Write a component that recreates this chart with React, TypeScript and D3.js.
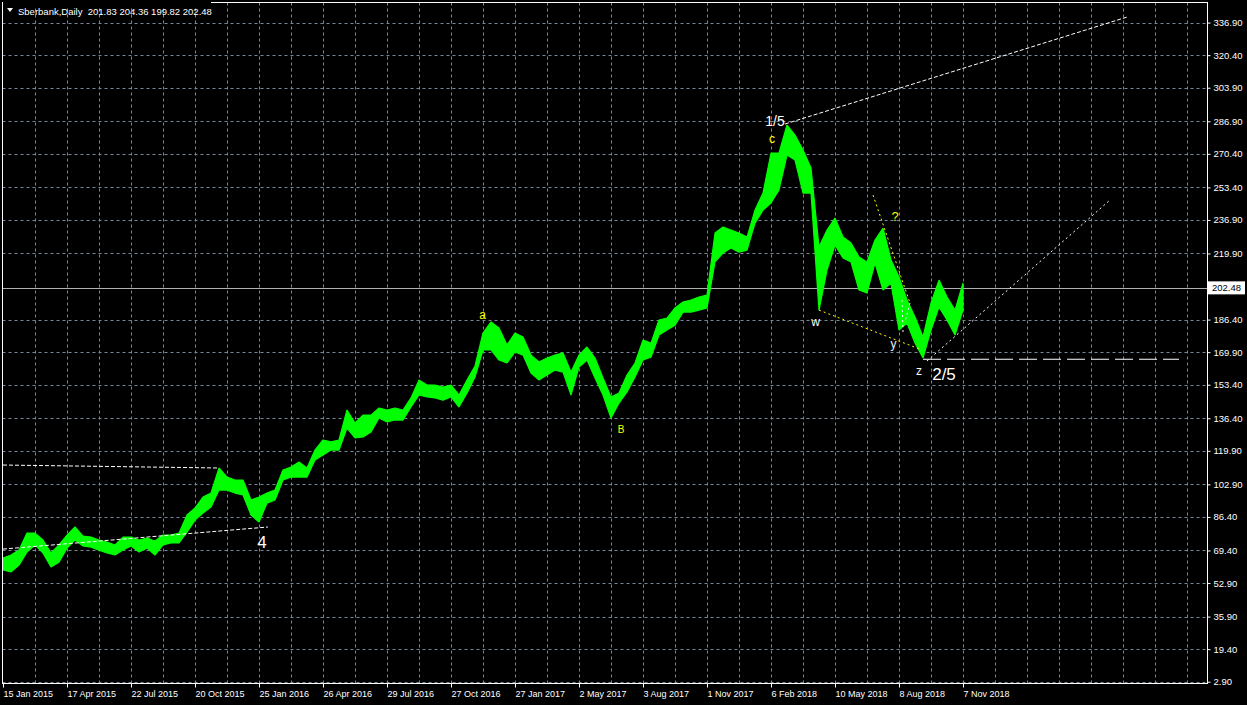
import React, { useEffect, useRef } from "react";
import * as d3 from "d3";

// Sberbank daily, sampled every 8 bars (high / low of each slice)
const STEP = 8;
const highs = [
  65.6, 67.1, 69.6, 78.2, 78.2, 74.7, 68.1, 72.2, 77.2, 81.3, 76.7, 76.2, 74.7, 73.7, 72.2, 76.2,
  76.2, 74.7, 75.7, 74.2, 77.2, 77.2, 78.2, 87.4, 90.9, 96.5, 98.5, 111.2, 106.6, 105.1, 105.1, 95.0,
  96.5, 98.5, 100.0, 110.2, 111.7, 114.2, 111.2, 120.3, 125.4, 124.4, 125.4, 140.6, 134.0, 138.0, 138.0, 141.6,
  140.6, 141.6, 140.6, 146.7, 155.8, 153.2, 153.2, 152.2, 153.2, 148.2, 155.8, 162.9, 179.6, 185.2, 182.1, 173.5,
  179.6, 177.6, 168.4, 164.9, 166.9, 168.4, 169.5, 159.8, 168.4, 172.5, 166.9, 156.8, 147.2, 149.2, 158.3, 164.4,
  176.0, 174.5, 186.2, 187.2, 192.3, 195.3, 196.3, 197.8, 198.8, 230.3, 233.3, 231.8, 230.3, 228.2, 241.9, 250.5,
  270.8, 270.8, 285.0, 279.9, 272.3, 263.2, 223.2, 231.8, 237.9, 228.2, 225.2, 218.1, 215.6, 226.7, 232.8, 216.6,
  208.0, 196.3, 187.7, 177.6, 194.8, 206.4, 197.8, 191.2, 204.9,
];
const lows = [
  59.5, 58.5, 62.0, 68.6, 72.2, 68.1, 61.0, 63.5, 70.6, 74.7, 71.7, 71.1, 69.6, 68.1, 67.1, 69.6,
  71.7, 68.6, 70.6, 67.1, 72.2, 73.2, 73.2, 78.7, 84.8, 88.4, 91.4, 100.0, 100.0, 98.5, 97.5, 87.4,
  83.8, 93.4, 95.0, 105.1, 106.6, 106.6, 106.6, 115.2, 117.8, 120.3, 120.3, 131.4, 126.4, 126.9, 129.4, 136.5,
  134.5, 135.5, 135.5, 142.1, 148.2, 147.2, 146.7, 145.6, 147.2, 142.1, 149.2, 157.3, 171.0, 171.0, 165.9, 164.4,
  170.0, 168.4, 159.3, 155.8, 158.3, 160.8, 159.8, 148.2, 162.4, 165.9, 156.8, 148.2, 136.5, 144.1, 149.7, 157.3,
  165.9, 167.4, 178.6, 181.1, 183.6, 190.2, 190.2, 191.2, 192.3, 215.6, 220.1, 222.7, 220.6, 221.6, 235.3, 241.9,
  245.5, 252.1, 269.8, 267.3, 250.5, 250.5, 191.2, 211.5, 224.2, 217.6, 215.6, 201.4, 199.9, 215.1, 201.4, 204.9,
  181.1, 184.7, 174.5, 166.9, 181.1, 192.8, 186.2, 178.6, 191.2,
];

const priceTicks = [
  336.9, 320.4, 303.9, 286.9, 270.4, 253.4, 236.9, 219.9, 186.4, 169.9,
  153.4, 136.4, 119.9, 102.9, 86.4, 69.4, 52.9, 35.9, 19.4, 2.9,
];
const dateLabels = [
  "15 Jan 2015", "17 Apr 2015", "22 Jul 2015", "20 Oct 2015", "25 Jan 2016", "26 Apr 2016",
  "29 Jul 2016", "27 Oct 2016", "27 Jan 2017", "2 May 2017", "3 Aug 2017", "1 Nov 2017",
  "6 Feb 2018", "10 May 2018", "8 Aug 2018", "7 Nov 2018",
];
const lastPrice = 202.48;
const ohlc = [201.83, 204.36, 199.82, 202.48];

// trend lines: [bar, price] pairs
const whiteDashed = [
  [[0, 112.7], [215, 111.2]],
  [[0, 70.1], [265, 81.3]],
  [[782, 285.5], [1124, 339.7]],
];
const whiteDotted = [
  [[924, 165.4], [1107, 247.0]],
  [[899, 196.3], [900, 180.1]],
  [[907, 194.8], [902, 185.2]],
];
const yellowDotted = [
  [[816, 191.2], [919, 171.0]],
  [[870, 249.5], [907, 194.8]],
];
const supportLine = [[920, 166.3], [1176, 166.3]];

const waveLabels = [
  { text: "4", bar: 259, price: 73.4, color: "#ffffff", size: 17 },
  { text: "a", bar: 479.5, price: 188.5, color: "#ffff00", size: 12 },
  { text: "B", bar: 618, price: 130.7, color: "#ffff00", size: 10 },
  { text: "c", bar: 769, price: 278.1, color: "#ffff00", size: 12 },
  { text: "1/5", bar: 772, price: 287.0, color: "#ffffff", size: 14 },
  { text: "w", bar: 812.5, price: 185.4, color: "#ffffff", size: 12 },
  { text: "?", bar: 892, price: 238.4, color: "#ffff00", size: 13 },
  { text: "y", bar: 890.5, price: 173.8, color: "#e8f0ff", size: 12 },
  { text: "z", bar: 916, price: 160.3, color: "#ffffff", size: 12 },
  { text: "2/5", bar: 941, price: 158.8, color: "#ffffff", size: 17 },
];

const App = () => {
  const ref = useRef<SVGSVGElement>(null);

  useEffect(() => {
    if (!ref.current) return;
    document.body.style.margin = "0";
    document.body.style.background = "#000";

    const svg = d3.select(ref.current);
    svg.selectAll("*").remove();

    const W = 1247, H = 705;
    const left = 2.5, right = 1207.5, top = 2.5, bottom = 683.5;
    const font = "'Liberation Sans', Arial, sans-serif";

    const x = d3.scaleLinear().domain([0, 1204]).range([3, 1207]);
    const y = d3.scaleLinear().domain([2.9, 336.9]).range([681.7, 22.6]);

    svg.append("rect").attr("width", W).attr("height", H).attr("fill", "#000");

    // grid
    const grid = svg.append("g")
      .attr("stroke", "#778899")
      .attr("stroke-dasharray", "3,3")
      .attr("stroke-width", 1);
    grid.selectAll("line.h")
      .data(priceTicks)
      .enter()
      .append("line")
      .attr("x1", left)
      .attr("x2", right)
      .attr("y1", d => Math.round(y(d)) + 0.5)
      .attr("y2", d => Math.round(y(d)) + 0.5);
    grid.selectAll("line.v")
      .data(d3.range(32, 1204, 32))
      .enter()
      .append("line")
      .attr("x1", d => Math.round(x(d)) + 0.5)
      .attr("x2", d => Math.round(x(d)) + 0.5)
      .attr("y1", top)
      .attr("y2", bottom);

    // current price line
    svg.append("line")
      .attr("x1", left)
      .attr("x2", right)
      .attr("y1", Math.round(y(lastPrice)) + 0.5)
      .attr("y2", Math.round(y(lastPrice)) + 0.5)
      .attr("stroke", "#b0b0b0")
      .attr("stroke-width", 1);

    // price bars (high/low band)
    const band = d3.area<number>()
      .x((d, i) => x(i * STEP))
      .y0((d, i) => y(lows[i]))
      .y1(d => y(d));
    svg.append("path")
      .datum(highs)
      .attr("d", band)
      .attr("fill", "#00ff00")
      .attr("stroke", "#00ff00")
      .attr("stroke-width", 1.2)
      .attr("stroke-linejoin", "bevel");

    // trend lines
    const seg = (pts: number[][]) => d3.line<number[]>()
      .x(p => x(p[0]))
      .y(p => y(p[1]))(pts);

    whiteDashed.forEach(s => {
      svg.append("path").attr("d", seg(s)).attr("fill", "none")
        .attr("stroke", "#ffffff").attr("stroke-width", 1).attr("stroke-dasharray", "4,2");
    });
    whiteDotted.forEach(s => {
      svg.append("path").attr("d", seg(s)).attr("fill", "none")
        .attr("stroke", "#ffffff").attr("stroke-width", 1).attr("stroke-dasharray", "2,3");
    });
    yellowDotted.forEach(s => {
      svg.append("path").attr("d", seg(s)).attr("fill", "none")
        .attr("stroke", "#ffff00").attr("stroke-width", 1).attr("stroke-dasharray", "2,3");
    });
    svg.append("path").attr("d", seg(supportLine)).attr("fill", "none")
      .attr("stroke", "#ffffff").attr("stroke-width", 1.2).attr("stroke-dasharray", "18,6");

    // wave labels
    svg.selectAll("text.wave")
      .data(waveLabels)
      .enter()
      .append("text")
      .attr("x", d => x(d.bar))
      .attr("y", d => y(d.price))
      .attr("text-anchor", "middle")
      .attr("dominant-baseline", "central")
      .style("font-family", font)
      .style("font-size", d => d.size + "px")
      .style("fill", d => d.color)
      .text(d => d.text);

    // frame
    svg.append("rect")
      .attr("x", left).attr("y", top)
      .attr("width", right - left).attr("height", bottom - top)
      .attr("fill", "none").attr("stroke", "#ffffff").attr("stroke-width", 1);

    // price axis
    const yAxis = svg.append("g")
      .attr("transform", `translate(${right},0)`)
      .call(d3.axisRight(y).tickValues(priceTicks).tickSize(3).tickFormat(d => (+d).toFixed(2)));
    yAxis.select(".domain").remove();
    yAxis.selectAll("line").attr("stroke", "#ffffff");
    yAxis.selectAll("text")
      .style("font-family", font)
      .style("font-size", "9.5px")
      .style("fill", "#ffffff");

    // last price tag
    const ly = y(lastPrice);
    svg.append("rect")
      .attr("x", 1208).attr("y", ly - 6.5)
      .attr("width", 37).attr("height", 13)
      .attr("fill", "#ffffff");
    svg.append("text")
      .attr("x", 1212).attr("y", ly)
      .attr("dominant-baseline", "central")
      .style("font-family", font)
      .style("font-size", "9.5px")
      .style("fill", "#000000")
      .text(lastPrice.toFixed(2));

    // time axis
    const tickBars = dateLabels.map((d, i) => i * 64);
    const xAxis = svg.append("g")
      .attr("transform", `translate(0,${bottom})`)
      .call(d3.axisBottom(x).tickValues(tickBars).tickSize(4)
        .tickFormat((d, i) => dateLabels[i]));
    xAxis.select(".domain").remove();
    xAxis.selectAll("line").attr("stroke", "#ffffff");
    xAxis.selectAll("text")
      .attr("text-anchor", "start")
      .attr("x", 0)
      .style("font-family", font)
      .style("font-size", "9px")
      .style("fill", "#ffffff");

    // header (hides the top frame edge behind it)
    svg.append("rect")
      .attr("x", 3).attr("y", 0)
      .attr("width", 208).attr("height", 6)
      .attr("fill", "#000");
    svg.append("path")
      .attr("d", "M7,8 L13,8 L10,12 Z")
      .attr("fill", "#ffffff");
    svg.append("text")
      .attr("x", 18).attr("y", 11)
      .attr("dominant-baseline", "central")
      .style("font-family", font)
      .style("font-size", "9.5px")
      .style("fill", "#ffffff")
      .style("white-space", "pre")
      .text("Sberbank,Daily  " + ohlc.map(v => v.toFixed(2)).join(" "));
  }, []);

  return <svg ref={ref} width={1247} height={705} style={{ display: "block" }} />;
};

export default App;
